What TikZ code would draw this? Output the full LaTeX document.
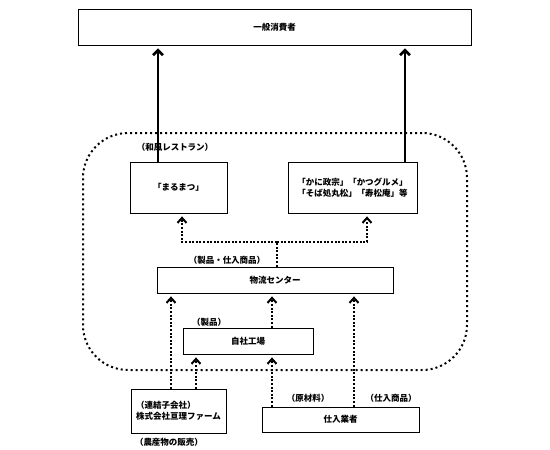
\documentclass[tikz,border=0pt]{standalone}
\usepackage{fontspec}
\newfontfamily\jpfont{Noto Sans CJK JP}
\usetikzlibrary{arrows.meta, positioning}

\begin{document}
\begin{tikzpicture}[x=1pt, y=-1pt,
    font=\jpfont\bfseries\fontsize{8.5}{11.5}\selectfont,
    block/.style={rectangle, draw, line width=0.8pt, inner sep=0pt, align=center},
    group/.style={rectangle, draw, line width=2pt, dash pattern=on 2pt off 3pt, rounded corners=45pt, inner sep=0pt},
    note/.style={inner sep=0pt},
    arrow/.style={line width=2.6pt, -{Straight Barb[length=5pt,width=10pt]}, shorten >=3pt},
    dotarrow/.style={line width=2pt, dash pattern=on 2pt off 1.6pt, -{Straight Barb[length=5pt,width=9pt]}, shorten >=3pt},
    dotline/.style={line width=2pt, dash pattern=on 2pt off 1.6pt}]
    \useasboundingbox (0,0) rectangle (550,450);
    \node [block, minimum width=393pt, minimum height=36pt] (consumer) at (274.5,27) {一般消費者};
    \node [group, minimum width=384pt, minimum height=237pt] (group) at (275,251.5) {};
    \node [block, minimum width=97pt, minimum height=51pt] (maru) at (178.5,187.5) {「まるまつ」};
    \node [block, minimum width=129pt, minimum height=51pt] (kani) at (352.5,187.5) {「かに政宗」「かつグルメ」\\「そば処丸松」「寿松庵」等};
    \node [block, minimum width=236pt, minimum height=26pt] (center) at (275,280) {物流センター};
    \node [block, minimum width=130pt, minimum height=26pt] (factory) at (248,341) {自社工場};
    \node [block, minimum width=95pt, minimum height=44pt, align=left] (farm) at (178.5,411) {（連結子会社）\\株式会社亘理ファーム};
    \node [block, minimum width=157pt, minimum height=25pt] (supplier) at (340.5,419.5) {仕入業者};
    \node [note] (washoku) at (175,147) {（和風レストラン）};
    \node [note] (goods) at (227,260) {（製品・仕入商品）};
    \node [note] (product) at (209,322) {（製品）};
    \node [note] (agri) at (169,442) {（農産物の販売）};
    \node [note] (material) at (308,398) {（原材料）};
    \node [note] (purchase) at (391,398) {（仕入商品）};
    \coordinate (fork) at ([xshift=2pt]center.north |- 0,242);
    \draw [arrow] ([xshift=-20.5pt]maru.north) -- ([xshift=-20.5pt]maru.north |- consumer.south);
    \draw [arrow] ([xshift=52.5pt]kani.north) -- ([xshift=52.5pt]kani.north |- consumer.south);
    \draw [dotline] ([xshift=2pt]center.north) -- (fork);
    \draw [dotarrow] (fork) -| ([xshift=3.5pt]maru.south);
    \draw [dotarrow] (fork) -| ([xshift=14.5pt]kani.south);
    \draw [dotarrow] ([xshift=-7.5pt]farm.north) -- ([xshift=-7.5pt]farm.north |- center.south);
    \draw [dotarrow] ([xshift=17.5pt]farm.north) -- ([xshift=17.5pt]farm.north |- factory.south);
    \draw [dotarrow] ([xshift=24pt]factory.north) -- ([xshift=24pt]factory.north |- center.south);
    \draw [dotarrow] ([xshift=-68.5pt]supplier.north) -- ([xshift=-68.5pt]supplier.north |- factory.south);
    \draw [dotarrow] ([xshift=13.5pt]supplier.north) -- ([xshift=13.5pt]supplier.north |- center.south);
\end{tikzpicture}
\end{document}
